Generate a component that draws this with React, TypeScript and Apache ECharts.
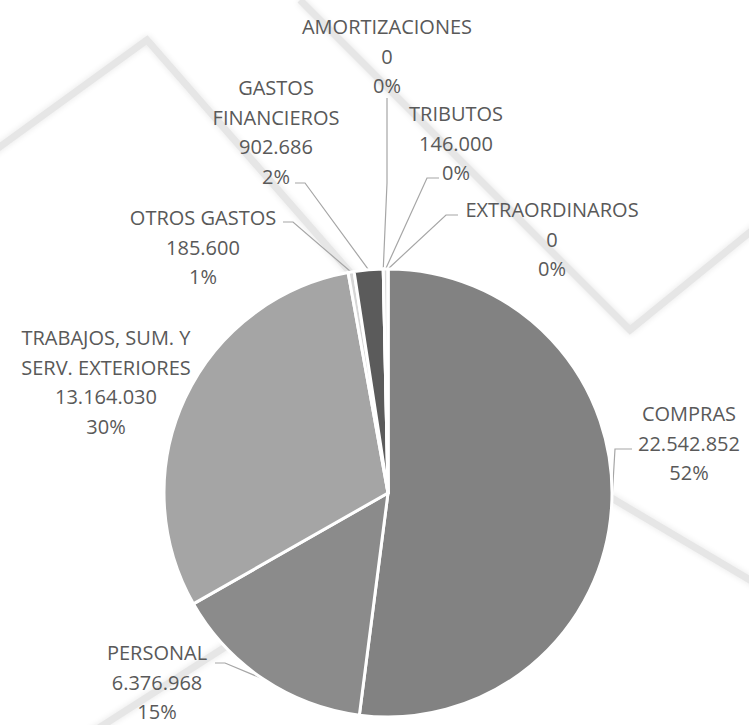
import React, { useEffect, useRef } from "react";
import * as echarts from "echarts";

// ---- data ----
const categories = [
  "COMPRAS",
  "PERSONAL",
  "TRABAJOS, SUM. Y\nSERV. EXTERIORES",
  "OTROS GASTOS",
  "GASTOS\nFINANCIEROS",
  "AMORTIZACIONES",
  "TRIBUTOS",
  "EXTRAORDINAROS",
];
const values = [22542852, 6376968, 13164030, 185600, 902686, 0, 146000, 0];

// ---- styles / layout (not data) ----
const sliceColors = ["#828282", "#8b8b8b", "#a5a5a5", "#d6d6d6", "#5b5b5b", "#bfbfbf", "#dadada", "#cfcfcf"];
const labelAnchors: number[][] = [
  [689, 443],
  [157, 682],
  [106, 382],
  [203, 247],
  [276, 132],
  [387, 56],
  [456, 143],
  [552, 239],
];
// leader line: bend point and end point (null = no leader line)
const leaderBends: (number[] | null)[] = [
  [615, 449],
  [225, 663],
  null,
  [293, 222],
  [305, 183],
  [387, 183],
  [427, 178],
  [446, 215],
];
const leaderEnds: (number[] | null)[] = [
  [632, 449],
  [215, 663],
  null,
  [283, 222],
  [295, 183],
  [387, 98],
  [439, 178],
  [458, 215],
];
const watermarks: number[][][] = [
  [[-10, 154], [147, 40], [370, 295]],
  [[300, 0], [630, 330], [760, 224]],
  [[480, 420], [760, 586]],
  [[330, 580], [80, 740]],
];

const fmt = (v: number) => String(v).replace(/\B(?=(\d{3})+(?!\d))/g, ".");

export default function App() {
  const ref = useRef<HTMLDivElement>(null);
  useEffect(() => {
    if (!ref.current) return;
    const chart = echarts.init(ref.current, null, { renderer: "svg" });
    chart.setOption({
      animation: false,
      backgroundColor: "#ffffff",
      graphic: watermarks.map((pts) => ({
        type: "polyline",
        silent: true,
        z: -10,
        shape: { points: pts },
        style: {
          stroke: "#e6e6e6",
          lineWidth: 7,
          fill: null,
          shadowBlur: 6,
          shadowColor: "#e6e6e6",
        },
      })),
      series: [
        {
          type: "pie",
          center: [388, 493],
          radius: 224,
          startAngle: 90,
          clockwise: true,
          percentPrecision: 0,
          avoidLabelOverlap: false,
          minShowLabelAngle: 0,
          itemStyle: { borderColor: "#ffffff", borderWidth: 3 },
          label: {
            show: true,
            position: "outside",
            fontFamily: "Open Sans",
            fontSize: 20,
            lineHeight: 29.5,
            color: "#595959",
            align: "center",
            formatter: (p: any) => `${p.name}\n${fmt(p.value)}\n${Math.round(p.percent)}%`,
          },
          labelLine: {
            show: true,
            lineStyle: { color: "#a6a6a6", width: 1.2 },
          },
          labelLayout: (params: any) => {
            const i = params.dataIndex;
            const [ax, ay] = labelAnchors[i];
            const bend = leaderBends[i];
            const end = leaderEnds[i];
            const res: any = { x: ax, y: ay, align: "center", verticalAlign: "middle" };
            if (bend && end) {
              const start = params.labelLinePoints && params.labelLinePoints[0] ? params.labelLinePoints[0] : bend;
              res.labelLinePoints = [start, bend, end];
            }
            return res;
          },
          data: categories.map((name, i) => ({
            name,
            value: values[i],
            itemStyle: { color: sliceColors[i] },
            labelLine: { show: leaderBends[i] !== null },
          })),
        },
      ],
    });
    return () => chart.dispose();
  }, []);
  return (
    <div
      ref={ref}
      style={{ position: "fixed", left: 0, top: 0, width: 749, height: 725 }}
    />
  );
}
